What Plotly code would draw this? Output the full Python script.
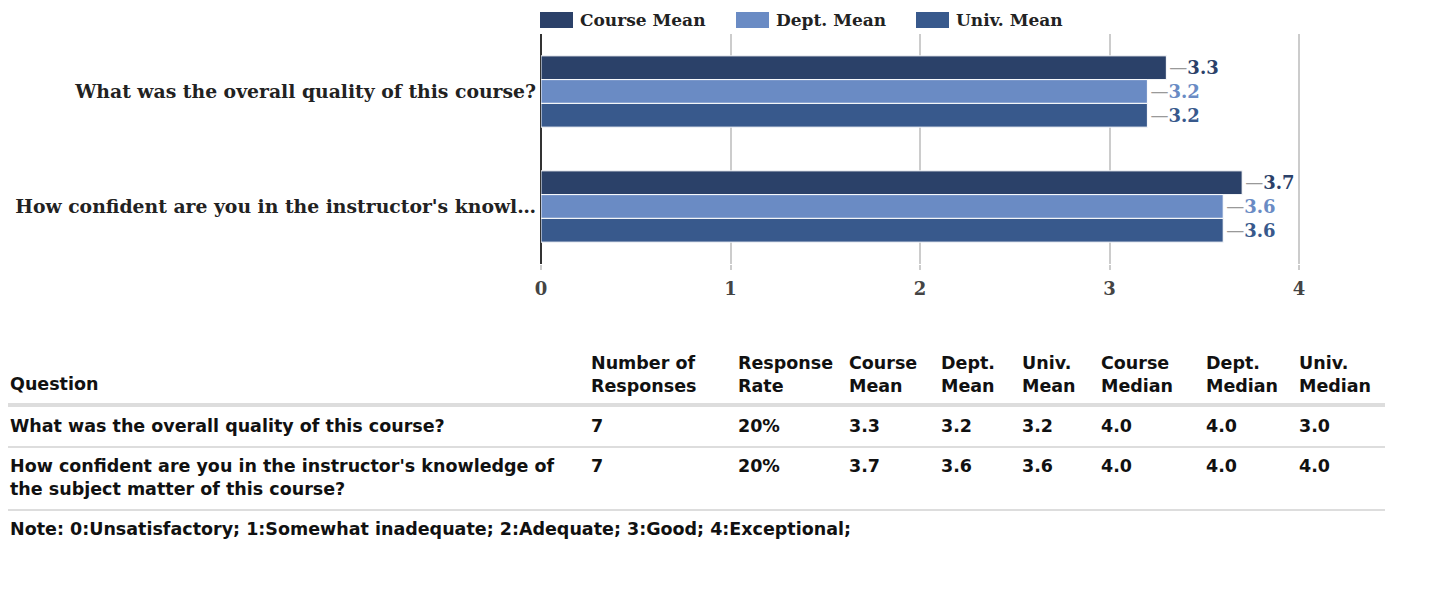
import plotly.graph_objects as go

# ---------------- data ----------------
questions = [
    "What was the overall quality of this course?",
    "How confident are you in the instructor's knowledge of the subject matter of this course?",
]
axis_labels = [
    "What was the overall quality of this course?",
    "How confident are you in the instructor's knowl\u2026",
]
table_question_labels = [
    "What was the overall quality of this course?",
    "How confident are you in the instructor's knowledge of<br>the subject matter of this course?",
]
series_names = ["Course Mean", "Dept. Mean", "Univ. Mean"]
course_mean = [3.3, 3.7]
dept_mean = [3.2, 3.6]
univ_mean = [3.2, 3.6]
x_ticks = [0, 1, 2, 3, 4]

num_responses = ["7", "7"]
response_rate = ["20%", "20%"]
course_median = ["4.0", "4.0"]
dept_median = ["4.0", "4.0"]
univ_median = ["3.0", "4.0"]

table_headers = ["Question", "Number of<br>Responses", "Response<br>Rate", "Course<br>Mean",
                 "Dept.<br>Mean", "Univ.<br>Mean", "Course<br>Median", "Dept.<br>Median",
                 "Univ.<br>Median"]
note_text = "Note: 0:Unsatisfactory; 1:Somewhat inadequate; 2:Adequate; 3:Good; 4:Exceptional;"

# ---------------- style / layout ----------------
W, H = 1434, 613
OFF = 8  # page body margin
colors = ["#2b4169", "#6a8bc4", "#38598c"]
SERIF = "DejaVu Serif"
SANS = "DejaVu Sans"


def px(x):
    return (x - OFF) / W


def py(y):
    return 1 - (y - OFF) / H


fig = go.Figure()
for name, vals, col in zip(series_names, [course_mean, dept_mean, univ_mean], colors):
    fig.add_trace(go.Bar(
        name=name, y=axis_labels, x=vals, orientation="h",
        marker=dict(color=col, line=dict(color="white", width=1)),
        text=vals,
        texttemplate="<span style='color:#999999'>\u2014</span><b>%{x:.1f}</b>",
        textposition="outside", cliponaxis=False, constraintext="none",
        textfont=dict(family=SERIF, size=18, color=col),
        showlegend=False, hoverinfo="x+name",
    ))

XMAX = 4.02
fig.update_layout(
    width=W, height=H, margin=dict(l=0, r=0, t=0, b=0),
    paper_bgcolor="white", plot_bgcolor="white",
    barmode="group", bargap=0.38, bargroupgap=0,
    xaxis=dict(domain=[px(541), px(541 + 758 * XMAX / 4)], range=[0, XMAX], tickvals=x_ticks,
               showgrid=True, gridcolor="#cccccc", gridwidth=2,
               zeroline=True, zerolinecolor="#333333", zerolinewidth=2,
               ticks="outside", ticklen=5, tickcolor="#cccccc", tickwidth=2,
               ticklabelstandoff=3,
               tickfont=dict(family=SERIF, size=18, color="#444444", weight="bold"),
               automargin=False, fixedrange=True),
    yaxis=dict(domain=[py(264), py(34)], autorange="reversed", showgrid=False,
               ticks="", ticklabelstandoff=4,
               tickfont=dict(family=SERIF, size=18.8, color="#222222", weight="bold"),
               automargin=False, fixedrange=True),
    font=dict(family=SANS),
)

shapes = []
annotations = []

# legend (manual, larger swatches)
legend_swatch_x = [540, 736, 916]
for name, col, sx in zip(series_names, colors, legend_swatch_x):
    shapes.append(dict(type="rect", xref="paper", yref="paper",
                       x0=px(sx), x1=px(sx + 33), y0=py(28), y1=py(12),
                       fillcolor=col, line=dict(width=0)))
    annotations.append(dict(xref="paper", yref="paper", x=px(sx + 38), y=py(20),
                            xanchor="left", yanchor="middle", showarrow=False,
                            text=f"<b>{name}</b>",
                            font=dict(family=SERIF, size=17, color="#222222")))

# table
col_x = [10, 591, 738, 849, 941, 1022, 1101, 1206, 1299]
tfont = dict(family=SANS, size=17.5, color="#111111")


def cell(x, y, text, anchor="middle"):
    annotations.append(dict(xref="paper", yref="paper", x=px(x - 2), y=py(y),
                            xanchor="left", yanchor=anchor, showarrow=False, align="left",
                            text=f"<b>{text}</b>", font=tfont))


for i, h in enumerate(table_headers):
    if "<br>" in h:
        cell(col_x[i], 374, h)
    else:
        cell(col_x[i], 384, h)

rows = list(zip(table_question_labels, num_responses, response_rate,
                [f"{v:.1f}" for v in course_mean], [f"{v:.1f}" for v in dept_mean],
                [f"{v:.1f}" for v in univ_mean], course_median, dept_median, univ_median))
row_first_line_y = [426, 466]
for r, row in enumerate(rows):
    for c, val in enumerate(row):
        if "<br>" in val:
            cell(col_x[c], row_first_line_y[r] + 11.5, val)
        else:
            cell(col_x[c], row_first_line_y[r], val)

cell(10, 529, note_text)

shapes.append(dict(type="line", xref="paper", yref="paper", x0=px(2), x1=px(1385),
                   y0=py(405), y1=py(405), line=dict(color="#dddddd", width=4)))
for ly in [447, 510]:
    shapes.append(dict(type="line", xref="paper", yref="paper", x0=px(2), x1=px(1385),
                       y0=py(ly), y1=py(ly), line=dict(color="#dddddd", width=2)))

# right edge strip
shapes.append(dict(type="rect", xref="paper", yref="paper", x0=px(1429), x1=1, y0=0, y1=1,
                   fillcolor="#fafafa", line=dict(width=0)))
shapes.append(dict(type="line", xref="paper", yref="paper", x0=px(1429), x1=px(1429),
                   y0=0, y1=1, line=dict(color="#e2e2e2", width=2)))

fig.update_layout(shapes=shapes, annotations=annotations)
fig.write_html("out.html")
